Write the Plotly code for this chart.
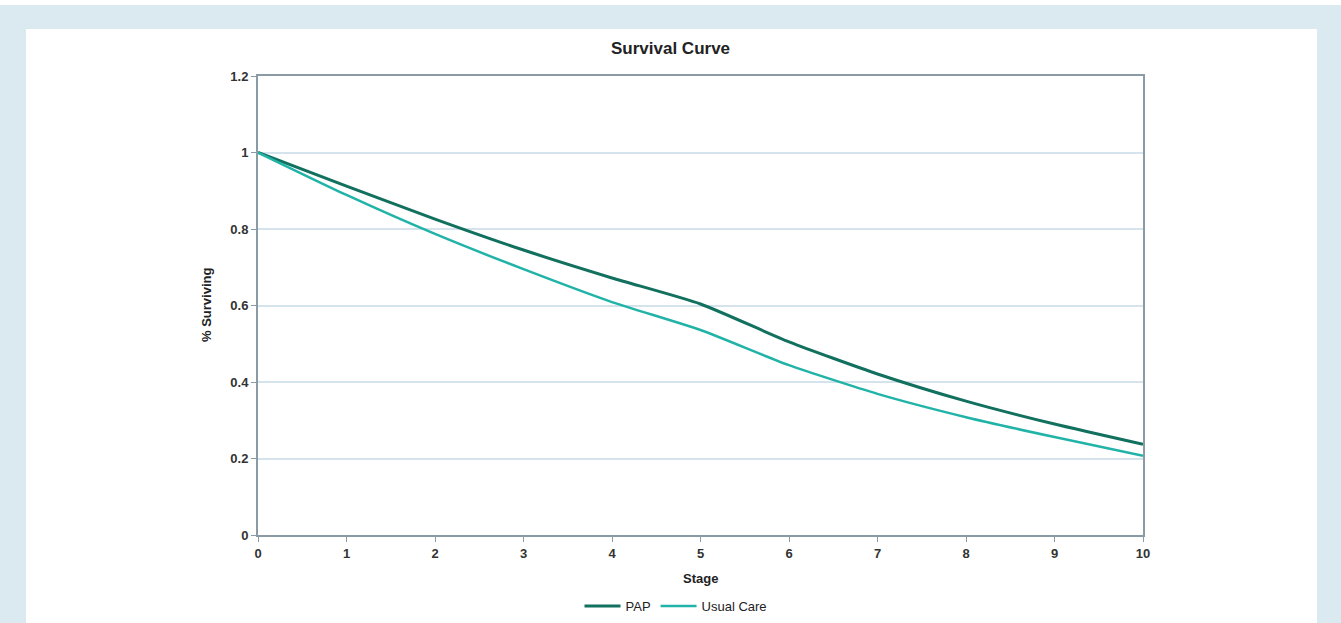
import plotly.graph_objects as go

stages = [0, 1, 2, 3, 4, 5, 6, 7, 8, 9, 10]
pap = [1.0, 0.912, 0.826, 0.745, 0.672, 0.604, 0.505, 0.421, 0.350, 0.290, 0.237]
usual_care = [1.0, 0.889, 0.787, 0.695, 0.609, 0.536, 0.444, 0.369, 0.308, 0.256, 0.207]
y_ticks = [0, 0.2, 0.4, 0.6, 0.8, 1, 1.2]
y_tick_labels = ["0", "0.2", "0.4", "0.6", "0.8", "1", "1.2"]

FONT = "Liberation Sans Narrow, Arial Narrow, Liberation Sans, Arial, sans-serif"
AXIS_COLOR = "#8a9ba6"

fig = go.Figure()
fig.add_trace(go.Scatter(x=stages, y=pap, mode="lines", name="PAP",
                         line=dict(color="#12705f", width=3, shape="spline", smoothing=0.6)))
fig.add_trace(go.Scatter(x=stages, y=usual_care, mode="lines", name="Usual Care",
                         line=dict(color="#22b3a8", width=2.5, shape="spline", smoothing=0.6)))

L, R, T, B = 258, 1341 - 1143, 76, 623 - 535
PW, PH = 1341 - L - R, 623 - T - B

def px(xp):
    return (xp - L) / PW

def py(yp):
    return (623 - B - yp) / PH

shapes = [
    dict(type="rect", xref="paper", yref="paper", x0=px(0), x1=px(1341), y0=py(5), y1=py(0),
         fillcolor="white", line=dict(width=0), layer="below"),
    dict(type="rect", xref="paper", yref="paper", x0=px(26), x1=px(1317), y0=py(623), y1=py(29),
         fillcolor="white", line=dict(width=0), layer="below"),
]

fig.update_layout(
    width=1341, height=623,
    margin=dict(l=L, r=R, t=T, b=B, autoexpand=False),
    paper_bgcolor="#dbeaf0",
    plot_bgcolor="white",
    font=dict(family=FONT, size=12, color="#333333"),
    shapes=shapes,
    showlegend=True,
    legend=dict(orientation="h", x=px(676), xanchor="center", y=py(606), yanchor="middle",
                font=dict(family=FONT, size=13, color="#222222"), bgcolor="rgba(0,0,0,0)",
                itemwidth=36, tracegroupgap=0),
    annotations=[
        dict(text="<b>Survival Curve</b>", xref="paper", yref="paper", x=px(670.5), y=py(48),
             xanchor="center", yanchor="middle", showarrow=False,
             font=dict(family=FONT, size=17, color="#222222")),
        dict(text="<b>Stage</b>", xref="paper", yref="paper", x=px(700.5), y=py(578),
             xanchor="center", yanchor="middle", showarrow=False,
             font=dict(family=FONT, size=13, color="#222222")),
        dict(text="<b>% Surviving</b>", xref="paper", yref="paper", x=px(206), y=py(305),
             xanchor="center", yanchor="middle", showarrow=False, textangle=-90,
             font=dict(family=FONT, size=13, color="#222222")),
    ],
)

fig.update_xaxes(range=[0, 10], tickmode="array", tickvals=stages,
                 ticktext=["<b>%d</b>" % s for s in stages],
                 showgrid=False, zeroline=False, showline=True, linecolor=AXIS_COLOR, linewidth=2,
                 mirror=True, ticks="outside", ticklen=5, tickcolor=AXIS_COLOR,
                 tickfont=dict(family=FONT, size=13, color="#333333"), fixedrange=True)
fig.update_yaxes(range=[0, 1.2], tickmode="array", tickvals=y_ticks,
                 ticktext=["<b>%s</b>" % t for t in y_tick_labels],
                 showgrid=True, gridcolor="#d5e3ec", gridwidth=1.5, zeroline=False,
                 showline=True, linecolor=AXIS_COLOR, linewidth=2, mirror=True,
                 ticks="outside", ticklen=5, tickcolor=AXIS_COLOR,
                 tickfont=dict(family=FONT, size=13, color="#333333"), fixedrange=True)

fig.write_html("out.html", config={"displayModeBar": False},
               post_script="document.body.style.margin='0px';document.body.style.overflow='hidden';")
